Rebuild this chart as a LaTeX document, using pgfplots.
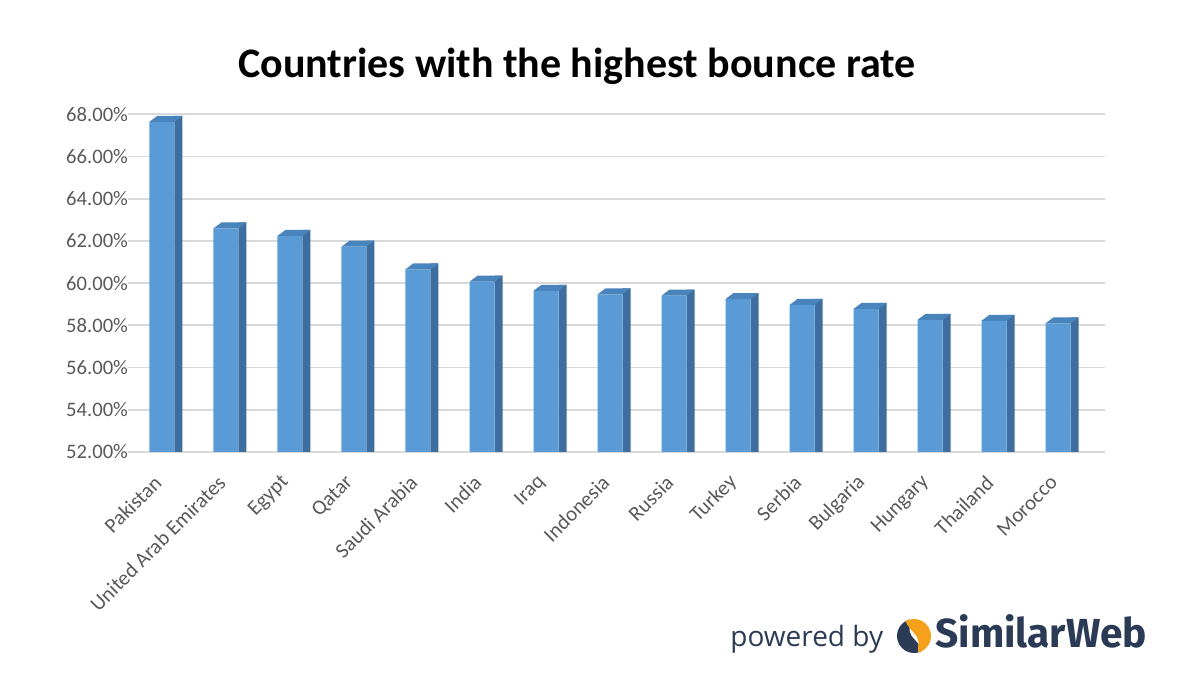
\documentclass[border=0pt]{standalone}
\usepackage{pgfplots}
\usepackage{pgfplotstable}
\pgfplotsset{compat=1.18}
\usepackage{fontspec}
\setmainfont{Carlito}
\newfontfamily\opensans{Open Sans}
\newfontfamily\fira{Fira Sans}
\definecolor{barfront}{HTML}{5B9BD5}
\definecolor{barside}{HTML}{3E6E9E}
\definecolor{bartop}{HTML}{4A84BD}
\definecolor{gridc}{HTML}{D9D9D9}
\definecolor{tickc}{HTML}{595959}
\definecolor{swnavy}{HTML}{2B3A55}
\definecolor{sworange}{HTML}{F5A11C}
\pgfdeclareplotmark{top3d}{%
  \pgfpathmoveto{\pgfqpoint{-6.25pt}{0pt}}%
  \pgfpathlineto{\pgfqpoint{6.25pt}{0pt}}%
  \pgfpathlineto{\pgfqpoint{10.25pt}{3pt}}%
  \pgfpathlineto{\pgfqpoint{-2.25pt}{3pt}}%
  \pgfpathclose\pgfusepathqfill}
\pgfplotstableread{
x v
0 67.65
1 62.60
2 62.24
3 61.73
4 60.66
5 60.07
6 59.64
7 59.47
8 59.41
9 59.25
10 58.97
11 58.78
12 58.26
13 58.22
14 58.10
}\bounce
\begin{document}
\begin{tikzpicture}
\path[use as bounding box] (0pt,0pt) rectangle (600pt,337.5pt);
\begin{axis}[
  at={(64pt,111.5pt)}, anchor=south west,
  width=488.5pt, height=168.8pt, scale only axis,
  xmin=-0.531, xmax=14.734, ymin=52, ymax=68,
  ytick={52,54,...,68},
  xtick={0,...,14},
  xticklabels={Pakistan,United Arab Emirates,Egypt,Qatar,Saudi Arabia,India,Iraq,Indonesia,Russia,Turkey,Serbia,Bulgaria,Hungary,Thailand,Morocco},
  ymajorgrids, grid style={draw=gridc, line width=0.9pt},
  axis line style={draw=none},
  major tick length=0pt,
  /pgf/number format/assume math mode=true,
  yticklabel={\pgfmathprintnumber[fixed,fixed zerofill,precision=2]{\tick}\%},
  yticklabel style={font=\fontsize{10.3}{12}\selectfont, text=tickc, anchor=east, xshift=3.5pt},
  xticklabel style={font=\fontsize{10.5}{12}\selectfont, text=tickc, xshift=-2pt, yshift=-13.5pt, rotate=45, anchor=east, inner sep=0pt},
]
\addplot[ybar, bar width=4pt, bar shift=8.25pt, fill=barside, draw=none] table[x=x, y expr=\thisrow{v}+0.284] {\bounce};
\addplot[ybar, bar width=12.5pt, bar shift=0pt, fill=barfront, draw=none] table[x=x, y=v] {\bounce};
\addplot[only marks, mark=top3d, mark options={fill=bartop, draw=none}] table[x=x, y=v] {\bounce};
\end{axis}
\node[font=\bfseries\fontsize{21}{24}\selectfont, anchor=base] at (288.5pt,298.5pt) {Countries with the highest bounce rate};
\node[font=\opensans\fontsize{14}{16}\selectfont, text=swnavy, anchor=base west, inner sep=0pt] at (365pt,14pt) {powered by};
\node[font=\fira\bfseries\fontsize{20.3}{23}\selectfont, text=swnavy, anchor=base west, inner sep=0pt] at (467.5pt,13.5pt) {SimilarWeb};
\fill[swnavy] (457pt,19.5pt) ++(105:8.5pt) arc[start angle=105, end angle=300, radius=8.5pt]
  .. controls (459pt,17pt) and (455pt,19pt) .. (454.8pt,22pt)
  .. controls (454.6pt,24pt) and (455.5pt,26pt) .. (454.8pt,27.7pt) -- cycle;
\fill[sworange] (457pt,19.5pt) ++(-75:8.5pt) arc[start angle=-75, end angle=120, radius=8.5pt]
  .. controls (455pt,22pt) and (459pt,20pt) .. (459.2pt,17pt)
  .. controls (459.4pt,15pt) and (458.5pt,13pt) .. (459.2pt,11.3pt) -- cycle;
\end{tikzpicture}
\end{document}
